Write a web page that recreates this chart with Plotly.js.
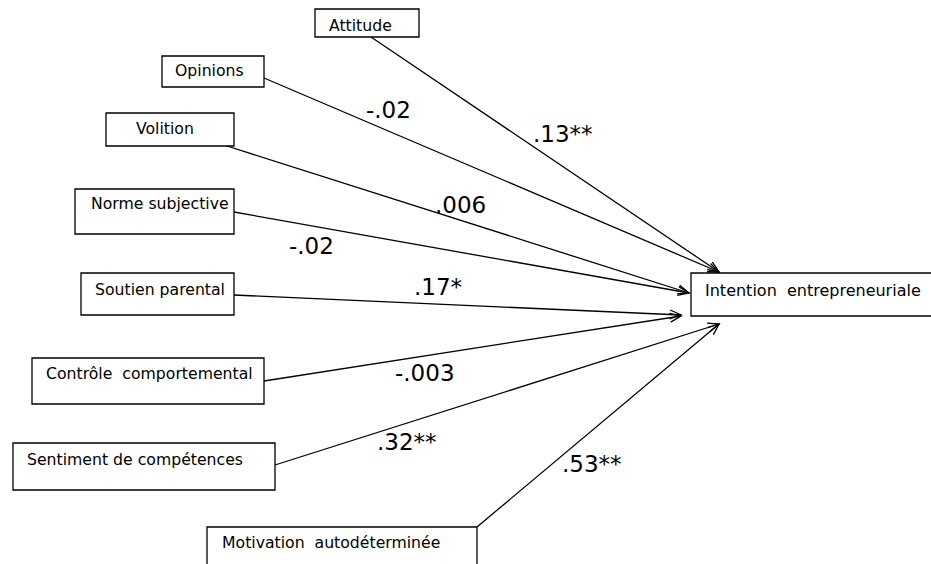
<!DOCTYPE html>
<html><head><meta charset="utf-8">
<script src="https://cdn.plot.ly/plotly-3.0.1.min.js"></script>
<style>html,body{margin:0;padding:0;background:#fff}#chart{width:931px;height:564px}</style>
</head><body><div id="chart"></div>
<script>
// ---- data ----
const predictors = ['Attitude', 'Opinions', 'Volition', 'Norme subjective', 'Soutien parental',
  'Contrôle  comportemental', 'Sentiment de compétences', 'Motivation  autodéterminée'];
const outcome = 'Intention  entrepreneuriale';
const coefficients = ['.13**', '-.02', '.006', '-.02', '.17*', '-.003', '.32**', '.53**'];

// ---- geometry (pixel coordinates of the diagram) ----
const predictorBoxes = [[315,9,419,37],[162,56,264,87],[106,113,234,146],[75,189,234,234],
  [81,273,234,315],[32,358,264,404],[13,443,275,490],[207,527,477,620]];
const predictorText = [[327,31],[173,76],[134,134],[89,209],[93,295],[44,379],[25,465],[220,548]];
const outcomeBox = [691,273,932,316];
const outcomeText = [703,296];
const pathStart = [[371,37],[264,78],[227,146],[234,212],[234,295],[264,381],[275,465],[477,527]];
const pathEnd = [[719,272],[719,272],[689,293],[689,293],[681,315],[681,316],[719,324],[719,324]];
const coefPos = [[563,133],[388,109],[460,204],[311,245],[438,286],[425,372],[407,441],[592,463]];

const boxFont = {family: 'DejaVu Sans, sans-serif', size: 15.7, color: '#000'};
const outcomeFont = {family: 'DejaVu Sans, sans-serif', size: 16, color: '#000'};
const coefFont = {family: 'DejaVu Sans, sans-serif', size: 23, color: '#000'};

const shapes = [];
const annotations = [];
function rect(b){
  shapes.push({type:'rect', xref:'x', yref:'y', x0:b[0], y0:b[1], x1:b[2], y1:b[3],
    line:{color:'#000', width:1.3}, fillcolor:'rgba(0,0,0,0)'});
}
function boxLabel(text, p, font){
  annotations.push({xref:'x', yref:'y', x:p[0], y:p[1]-5.5, text:text, showarrow:false,
    xanchor:'left', yanchor:'middle', font:font});
}
predictors.forEach((name,i)=>{ rect(predictorBoxes[i]); boxLabel(name, predictorText[i], boxFont); });
rect(outcomeBox); boxLabel(outcome, outcomeText, outcomeFont);

const headLen = 12, headAng = 22*Math.PI/180;
coefficients.forEach((c,i)=>{
  const [x0,y0] = pathStart[i], [x1,y1] = pathEnd[i];
  shapes.push({type:'line', xref:'x', yref:'y', x0:x0, y0:y0, x1:x1, y1:y1, line:{color:'#000', width:1.3}});
  const a = Math.atan2(y1-y0, x1-x0);
  const bx1 = x1 - headLen*Math.cos(a-headAng), by1 = y1 - headLen*Math.sin(a-headAng);
  const bx2 = x1 - headLen*Math.cos(a+headAng), by2 = y1 - headLen*Math.sin(a+headAng);
  shapes.push({type:'path', xref:'x', yref:'y',
    path:`M ${bx1} ${by1} L ${x1} ${y1} L ${bx2} ${by2}`, line:{color:'#000', width:1.3}});
  annotations.push({xref:'x', yref:'y', x:coefPos[i][0], y:coefPos[i][1]+1, text:c, showarrow:false,
    xanchor:'center', yanchor:'middle', font:coefFont});
});

const layout = {
  width:931, height:564, margin:{l:0,r:0,t:0,b:0}, paper_bgcolor:'#fff', plot_bgcolor:'#fff',
  xaxis:{range:[0,931], visible:false, fixedrange:true},
  yaxis:{range:[564,0], visible:false, fixedrange:true},
  showlegend:false, shapes:shapes, annotations:annotations
};
Plotly.newPlot('chart', [{x:[], y:[], type:'scatter', mode:'markers', hoverinfo:'skip'}], layout, {staticPlot:true, displayModeBar:false});
</script></body></html>
